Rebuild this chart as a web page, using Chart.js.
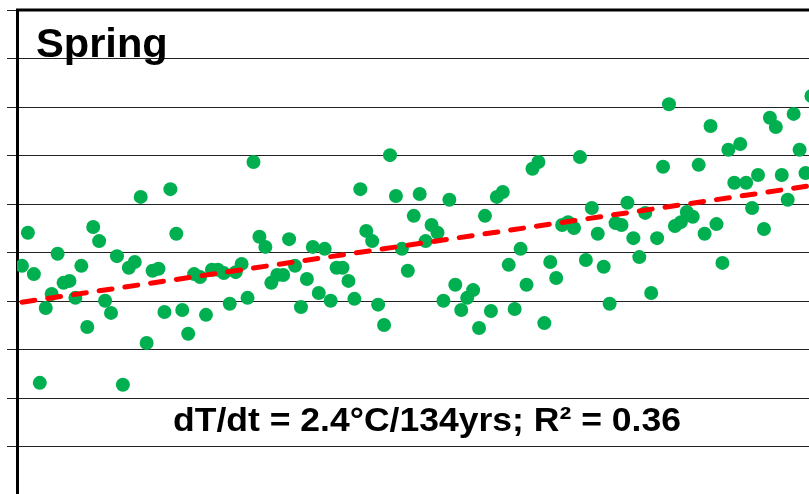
<!DOCTYPE html>
<html>
<head>
<meta charset="utf-8">
<script src="https://cdn.jsdelivr.net/npm/chart.js@4/dist/chart.umd.min.js"></script>
<style>
  html, body { margin: 0; padding: 0; background: #fff; overflow: hidden; }
  #wrap { position: absolute; left: 0; top: 0; width: 809px; height: 494px; overflow: hidden; }
  canvas { position: absolute; left: 0; top: 0; }
</style>
</head>
<body>
<div id="wrap"><canvas id="myChart" width="860" height="560"></canvas></div>
<script>
// spring mean temperature, one point per year
var years = [
  1880, 1881, 1882, 1883, 1884, 1885, 1886, 1887, 1888, 1889,
  1890, 1891, 1892, 1893, 1894, 1895, 1896, 1897, 1898, 1899,
  1900, 1901, 1902, 1903, 1904, 1905, 1906, 1907, 1908, 1909,
  1910, 1911, 1912, 1913, 1914, 1915, 1916, 1917, 1918, 1919,
  1920, 1921, 1922, 1923, 1924, 1925, 1926, 1927, 1928, 1929,
  1930, 1931, 1932, 1933, 1934, 1935, 1936, 1937, 1938, 1939,
  1940, 1941, 1942, 1943, 1944, 1945, 1946, 1947, 1948, 1949,
  1950, 1951, 1952, 1953, 1954, 1955, 1956, 1957, 1958, 1959,
  1960, 1961, 1962, 1963, 1964, 1965, 1966, 1967, 1968, 1969,
  1970, 1971, 1972, 1973, 1974, 1975, 1976, 1977, 1978, 1979,
  1980, 1981, 1982, 1983, 1984, 1985, 1986, 1987, 1988, 1989,
  1990, 1991, 1992, 1993, 1994, 1995, 1996, 1997, 1998, 1999,
  2000, 2001, 2002, 2003, 2004, 2005, 2006, 2007, 2008, 2009,
  2010, 2011, 2012, 2013
];

var temps = [
  9.73, 10.41, 9.56, 7.32, 8.86, 9.15, 9.98, 9.38, 9.42, 9.07,
  9.73, 8.47, 10.53, 10.24, 9.01, 8.76, 9.93, 7.28, 9.69, 9.81,
  11.15, 8.14, 9.63, 9.67, 8.78, 11.31, 10.39, 8.82, 8.33, 9.56,
  9.50, 8.72, 9.65, 9.65, 9.58, 8.95, 9.60, 9.77, 9.07, 11.87,
  10.33, 10.12, 9.38, 9.54, 9.54, 10.28, 9.73, 8.88, 9.46, 10.12,
  9.17, 10.08, 9.01, 9.69, 9.69, 9.42, 9.05, 11.31, 10.45, 10.24,
  8.93, 8.51, 12.01, 11.17, 10.08, 9.63, 10.76, 11.21, 10.24, 10.57,
  10.41, 9.01, 11.09, 9.34, 8.82, 9.07, 9.23, 8.45, 10.76, 8.80,
  11.15, 11.25, 9.75, 8.84, 10.08, 9.34, 11.73, 11.87, 8.55, 9.81,
  9.48, 10.57, 10.63, 10.51, 11.97, 9.85, 10.92, 10.39, 9.71, 8.95,
  10.61, 10.57, 11.03, 10.30, 9.91, 10.82, 9.17, 10.30, 11.77, 13.06,
  10.55, 10.63, 10.84, 10.74, 11.81, 10.39, 12.61, 10.59, 9.79, 12.12,
  11.44, 12.24, 11.44, 10.92, 11.60, 10.49, 12.78, 12.59, 11.60, 11.09,
  12.86, 12.12, 11.64, 13.23
];

// linear trend, end points
var trendYears = [1880, 2020];
var trendTemps = [8.98, 11.51];

var titleText = "Spring";
var statsText = "dT/dt = 2.4\u00B0C/134yrs; R\u00B2 = 0.36";

Chart.defaults.font.family = "'Liberation Sans', Arial, sans-serif";

var points = years.map(function (y, i) { return { x: y, y: temps[i] }; });
var trend = trendYears.map(function (y, i) { return { x: y, y: trendTemps[i] }; });

var textPlugin = {
  id: 'labels',
  afterDraw: function (chart) {
    var ctx = chart.ctx;
    var area = chart.chartArea;
    ctx.save();
    // top frame line
    ctx.strokeStyle = '#000';
    ctx.lineWidth = 3;
    ctx.beginPath();
    ctx.moveTo(area.left - 1, area.top);
    ctx.lineTo(chart.width, area.top);
    ctx.stroke();

    ctx.fillStyle = '#000';
    ctx.textBaseline = 'alphabetic';
    ctx.textAlign = 'left';

    ctx.save();
    ctx.translate(36, 57);
    ctx.scale(1.04, 1);
    ctx.font = "bold 40px 'Liberation Sans', Arial, sans-serif";
    ctx.fillText(titleText, 0, 0);
    ctx.restore();

    ctx.save();
    ctx.translate(173, 431);
    ctx.scale(1.045, 1);
    ctx.font = "bold 34px 'Liberation Sans', Arial, sans-serif";
    ctx.fillText(statsText, 0, 0);
    ctx.restore();

    ctx.restore();
  }
};

new Chart("myChart", {
  type: "scatter",
  data: {
    datasets: [
      {
        type: "line",
        data: trend,
        borderColor: "#ff0000",
        borderWidth: 5,
        borderDash: [13, 13],
        borderCapStyle: "round",
        pointRadius: 0,
        fill: false,
        order: 0
      },
      {
        data: points,
        backgroundColor: "#00b050",
        borderWidth: 0,
        pointRadius: 7,
        pointHoverRadius: 7,
        order: 1
      }
    ]
  },
  options: {
    responsive: false,
    animation: false,
    devicePixelRatio: 1,
    layout: { padding: { top: 10, left: 0, right: 5, bottom: 16 } },
    plugins: {
      legend: { display: false },
      title: { display: false },
      tooltip: { enabled: false }
    },
    scales: {
      x: {
        type: "linear",
        display: false,
        min: 1879.16,
        max: 2020
      },
      y: {
        min: 4,
        max: 15,
        ticks: { display: false, stepSize: 1 },
        grid: { color: "#222", lineWidth: 1, tickLength: 10, drawTicks: true },
        border: { display: true, color: "#000", width: 3 },
        afterFit: function (scale) { scale.width = 17; }
      }
    }
  },
  plugins: [textPlugin]
});
</script>
</body>
</html>
